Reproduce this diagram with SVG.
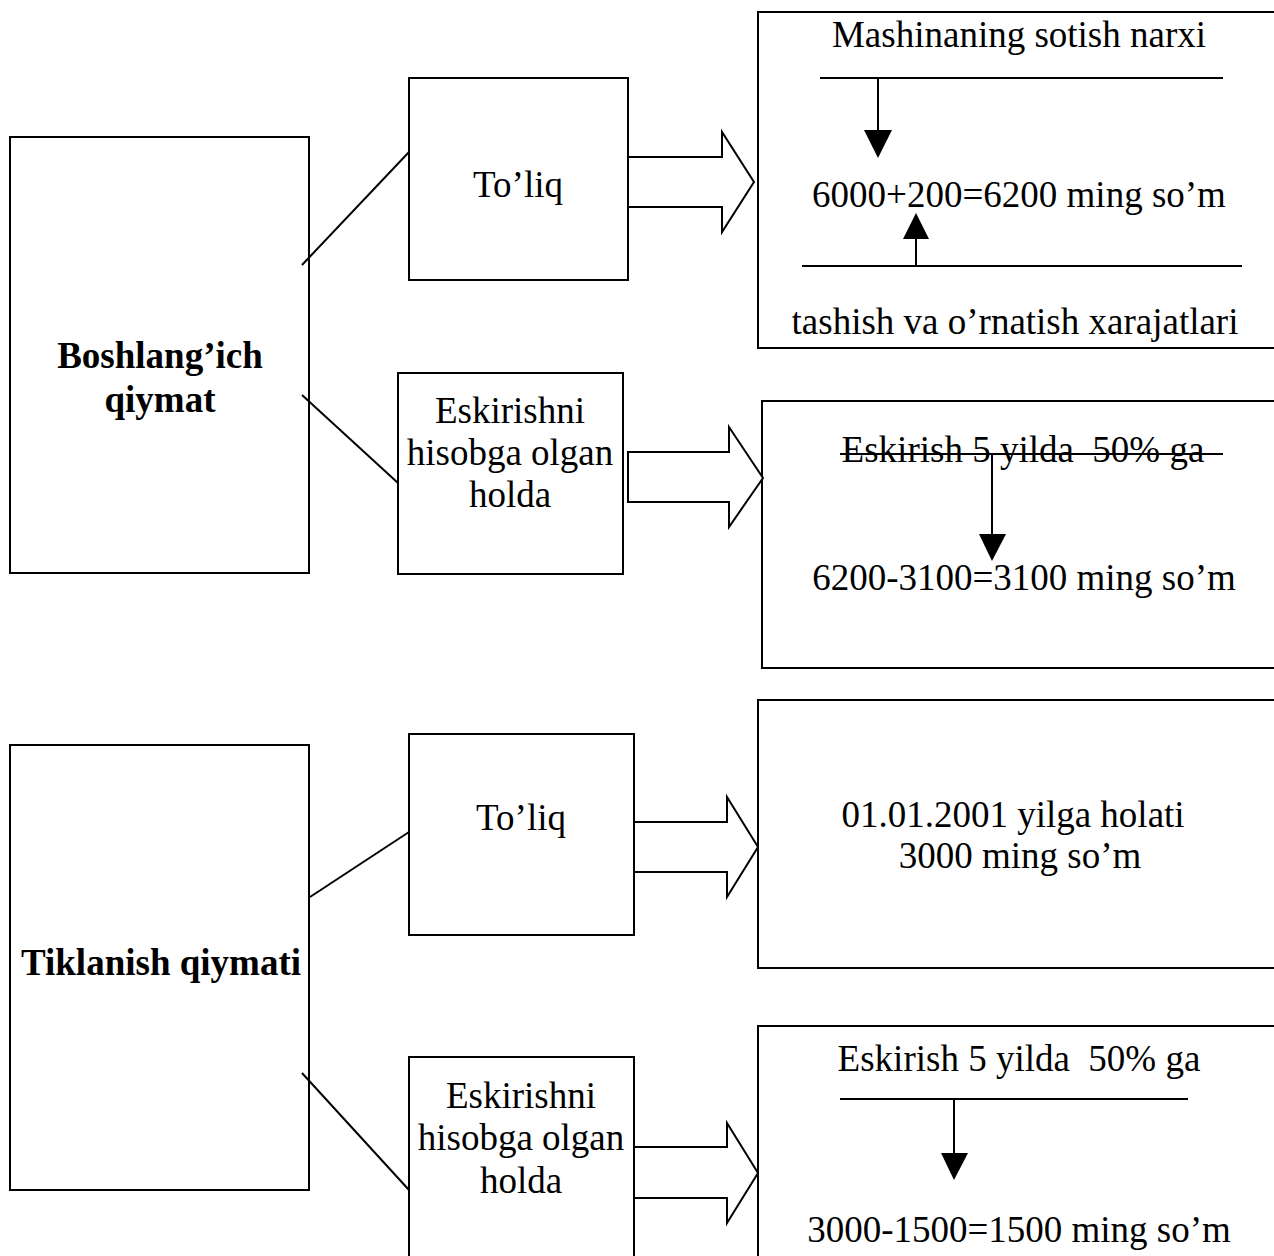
<svg xmlns="http://www.w3.org/2000/svg" width="1274" height="1256" viewBox="0 0 1274 1256">
<style>
  .box{fill:#fff;stroke:#000;stroke-width:2}
  .ln{stroke:#000;stroke-width:2;fill:none}
  .blk{fill:#fff;stroke:#000;stroke-width:2;stroke-linejoin:miter}
  .head{fill:#000;stroke:none}
  text{font-family:"Liberation Serif","Times New Roman",serif;font-size:37px;fill:#000;text-anchor:middle}
  .b{font-weight:bold}
</style>
<rect width="1274" height="1256" fill="#fff"/>

<g id="node-boshlangich">
  <rect class="box" x="10" y="137" width="299" height="436"/>
  <text class="b" x="160" y="368">Boshlang’ich</text>
  <text class="b" x="160" y="412">qiymat</text>
</g>
<g id="node-toliq-1">
  <rect class="box" x="409" y="78" width="219" height="202"/>
  <text x="518" y="197">To’liq</text>
</g>
<g id="node-eskirish-1">
  <rect class="box" x="398" y="373" width="225" height="201"/>
  <text x="510" y="423">Eskirishni</text>
  <text x="510" y="465">hisobga olgan</text>
  <text x="510" y="507">holda</text>
</g>
<g id="node-sotish">
  <rect class="box" x="758" y="12" width="530" height="336"/>
  <text x="1019" y="47">Mashinaning sotish narxi</text>
  <line class="ln" x1="820" y1="78" x2="1223" y2="78"/>
  <line class="ln" x1="878" y1="78" x2="878" y2="132"/>
  <polygon class="head" points="864,130 892,130 878,158"/>
  <text x="1019" y="207">6000+200=6200 ming so’m</text>
  <line class="ln" x1="802" y1="266" x2="1242" y2="266"/>
  <line class="ln" x1="916" y1="266" x2="916" y2="237"/>
  <polygon class="head" points="903,239 929,239 916,213"/>
  <text x="1015" y="334">tashish va o’rnatish xarajatlari</text>
</g>
<g id="node-eskirish-calc-1">
  <rect class="box" x="762" y="401" width="530" height="267"/>
  <text x="1023" y="462" xml:space="preserve">Eskirish 5 yilda  50% ga</text>
  <line class="ln" x1="840" y1="454" x2="1223" y2="454"/>
  <line class="ln" x1="992" y1="454" x2="992" y2="536"/>
  <polygon class="head" points="979,534 1006,534 992,561"/>
  <text x="1024" y="590">6200-3100=3100 ming so’m</text>
</g>

<g id="node-tiklanish">
  <rect class="box" x="10" y="745" width="299" height="445"/>
  <text class="b" x="161" y="975">Tiklanish qiymati</text>
</g>
<g id="node-toliq-2">
  <rect class="box" x="409" y="734" width="225" height="201"/>
  <text x="521" y="830">To’liq</text>
</g>
<g id="node-eskirish-2">
  <rect class="box" x="409" y="1057" width="225" height="210"/>
  <text x="521" y="1108">Eskirishni</text>
  <text x="521" y="1150">hisobga olgan</text>
  <text x="521" y="1193">holda</text>
</g>
<g id="node-holati">
  <rect class="box" x="758" y="700" width="530" height="268"/>
  <text x="1013" y="827">01.01.2001 yilga holati</text>
  <text x="1020" y="868">3000 ming so’m</text>
</g>
<g id="node-eskirish-calc-2">
  <rect class="box" x="758" y="1026" width="530" height="240"/>
  <text x="1019" y="1071" xml:space="preserve">Eskirish 5 yilda  50% ga</text>
  <line class="ln" x1="840" y1="1099" x2="1188" y2="1099"/>
  <line class="ln" x1="954" y1="1099" x2="954" y2="1155"/>
  <polygon class="head" points="941,1153 968,1153 954,1180"/>
  <text x="1019" y="1242">3000-1500=1500 ming so’m</text>
</g>

<g id="connectors">
  <line class="ln" x1="302" y1="265" x2="409" y2="152"/>
  <line class="ln" x1="302" y1="395" x2="398" y2="483"/>
  <line class="ln" x1="310" y1="897" x2="409" y2="832"/>
  <line class="ln" x1="302" y1="1073" x2="409" y2="1190"/>
  <polygon class="blk" points="628,157 722,157 722,132 754,182 722,232 722,207 628,207"/>
  <polygon class="blk" points="628,452 729,452 729,427 763,478 729,527 729,502 628,502"/>
  <polygon class="blk" points="634,822 727,822 727,797 758,847 727,897 727,872 634,872"/>
  <polygon class="blk" points="634,1147 727,1147 727,1123 758,1173 727,1223 727,1198 634,1198"/>
</g>
</svg>
